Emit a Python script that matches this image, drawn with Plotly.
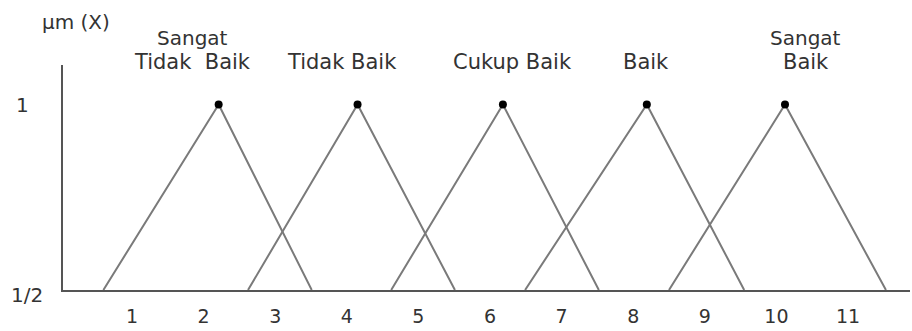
import plotly.graph_objects as go

# membership function sets (left base, peak, right base)
categories = ["Sangat Tidak Baik", "Tidak Baik", "Cukup Baik", "Baik", "Sangat Baik"]
left_base = [0.60, 2.62, 4.62, 6.49, 8.50]
peak = [2.21, 4.15, 6.18, 8.19, 10.12]
right_base = [3.51, 5.51, 7.52, 9.55, 11.53]
label_x = [1.84, 3.93, 6.31, 8.18, 10.41]

x_ticks = list(range(1, 12))
y_ticks = [0.5, 1]
y_tick_text = ["1/2", "1"]

font_family = "DejaVu Sans"
txt_color = "#333333"

fig = go.Figure()

for i in range(len(categories)):
    fig.add_trace(go.Scatter(
        x=[left_base[i], peak[i], right_base[i]], y=[0.5, 1, 0.5],
        mode='lines', line=dict(color='#7a7a7a', width=2),
        showlegend=False, hoverinfo='skip'
    ))

fig.add_trace(go.Scatter(
    x=peak, y=[1] * len(peak), mode='markers',
    marker=dict(color='black', size=8),
    showlegend=False
))

# category labels above the plot
for name, lx in zip(categories, label_x):
    words = name.split(" ")
    if words[0] == "Sangat":
        top = "Sangat"
        bottom = "Tidak\u00a0\u00a0Baik" if len(words) == 3 else " ".join(words[1:])
        fig.add_annotation(x=lx, y=1.122, xref='x', yref='paper', text=top,
                           showarrow=False, yanchor='middle', xanchor='center',
                           font=dict(family=font_family, size=20, color=txt_color))
    else:
        bottom = name
    fig.add_annotation(x=lx, y=1.013, xref='x', yref='paper', text=bottom,
                       showarrow=False, yanchor='middle', xanchor='center',
                       font=dict(family=font_family, size=21, color=txt_color))

# y tick labels
for yv, yt, px, ys in zip(y_ticks, y_tick_text, [-0.0425, -0.0484], [-5, 0]):
    fig.add_annotation(x=px, y=yv, xref='paper', yref='y', text=yt,
                       showarrow=False, xanchor='center', yanchor='middle', yshift=ys,
                       font=dict(family=font_family, size=20, color=txt_color))

fig.add_annotation(x=0, y=1.19, xref='paper', yref='paper', text="µm (X)",
                   showarrow=False, xanchor='center', yanchor='middle', xshift=13,
                   font=dict(family=font_family, size=20, color=txt_color))

fig.update_layout(
    width=912, height=331,
    margin=dict(l=63, r=2, t=65, b=41),
    plot_bgcolor='white', paper_bgcolor='white',
    xaxis=dict(range=[0.036, 11.866], tickmode='array', tickvals=x_ticks,
               showgrid=False, zeroline=False, showline=True, linecolor='#555', linewidth=2,
               ticks='outside', ticklen=8, tickcolor='rgba(0,0,0,0)',
               tickfont=dict(family=font_family, size=19, color=txt_color)),
    yaxis=dict(range=[0.5, 1.1065], showticklabels=False, showgrid=False, zeroline=False,
               showline=True, linecolor='#555', linewidth=2),
)

fig.write_html("out.html", config={'displayModeBar': False},
               post_script="document.body.style.margin='0';")
